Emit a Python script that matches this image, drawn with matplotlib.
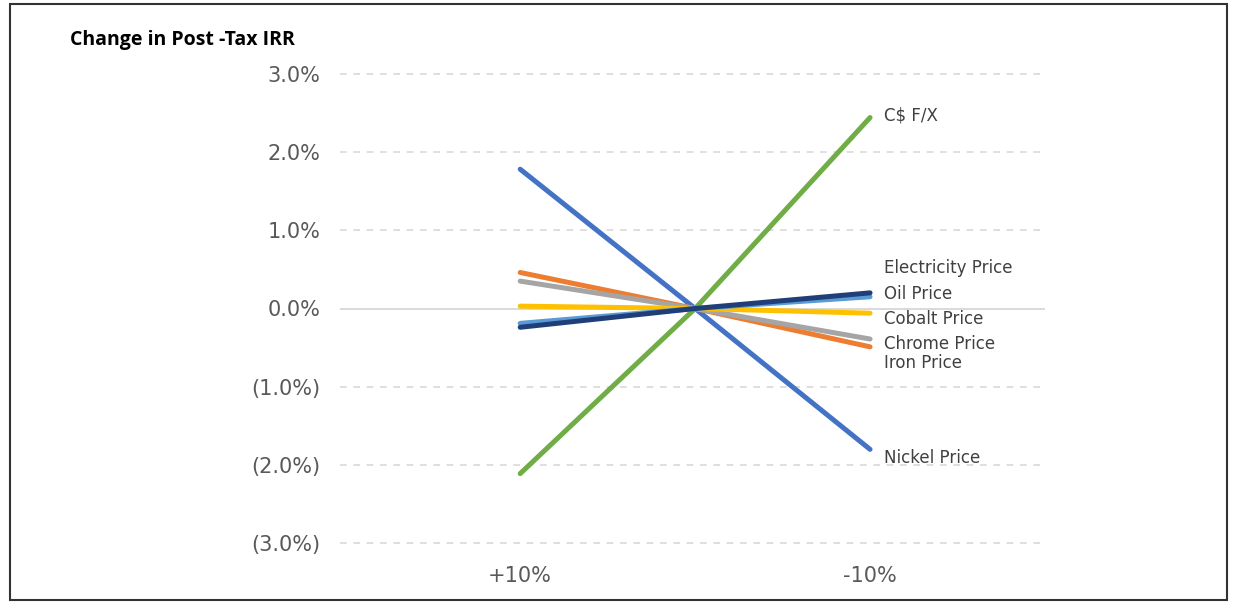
import matplotlib
matplotlib.use("Agg")
from matplotlib import pyplot as plt
from matplotlib.patches import Rectangle
import matplotlib.ticker as ticker

# sensitivity: +10% / base / -10%
cases = ["+10%", "", "-10%"]
x_pos = [-1, 0, 1]

series = ["Nickel Price", "Iron Price", "Chrome Price", "Cobalt Price",
          "Oil Price", "C$ F/X", "Electricity Price"]
values = {
    "Nickel Price":      [1.78, 0.0, -1.80],
    "Iron Price":        [0.46, 0.0, -0.49],
    "Chrome Price":      [0.35, 0.0, -0.39],
    "Cobalt Price":      [0.03, 0.0, -0.06],
    "Oil Price":         [-0.19, 0.0, 0.15],
    "C$ F/X":            [-2.11, 0.0, 2.44],
    "Electricity Price": [-0.24, 0.0, 0.20],
}
colors = {
    "Nickel Price": "#4472C4",
    "Iron Price": "#ED7D31",
    "Chrome Price": "#A5A5A5",
    "Cobalt Price": "#FFC000",
    "Oil Price": "#5B9BD5",
    "C$ F/X": "#70AD47",
    "Electricity Price": "#203F78",
}
# where the end labels sit (data units), spread so they don't overlap
label_y = {
    "Electricity Price": 0.52,
    "Oil Price": 0.19,
    "Cobalt Price": -0.14,
    "Chrome Price": -0.45,
    "Iron Price": -0.70,
    "C$ F/X": 2.47,
    "Nickel Price": -1.91,
}

plt.rcParams['font.family'] = ['DejaVu Sans']

fig = plt.figure(figsize=(12.33, 6.02), dpi=100)
ax = fig.add_axes([340/1233, 1 - 555/602, 705/1233, (555-62)/602])

ax.set_ylim(-3.15, 3.15)
ax.set_xlim(-2.03, 2.0)

for v in [-3, -2, -1, 1, 2, 3]:
    ax.axhline(v, color='#D9D9D9', lw=1.2, ls=(0, (4, 4)), zorder=0)
ax.axhline(0, color='#D9D9D9', lw=1.4, zorder=0)

for s in series:
    ax.plot(x_pos, values[s], color=colors[s], lw=3.6, solid_capstyle='round', zorder=2)
    ax.text(1.08, label_y[s], s, fontsize=12, color='#404040', va='center', ha='left')

ax.set_yticks([-3, -2, -1, 0, 1, 2, 3])
ax.yaxis.set_major_formatter(ticker.FuncFormatter(
    lambda v, p: f"{v:.1f}%" if v >= 0 else f"({abs(v):.1f}%)"))
ax.set_xticks([x_pos[0], x_pos[2]])
ax.set_xticklabels([cases[0], cases[2]])
ax.tick_params(axis='y', length=0, pad=14, labelsize=15, labelcolor='#595959')
ax.tick_params(axis='x', length=0, pad=8, labelsize=15, labelcolor='#595959')
for sp in ax.spines.values():
    sp.set_visible(False)

fig.text(70/1233, 1 - 40/602, "Change in Post -Tax IRR", fontsize=14,
         fontweight='bold', family=['Open Sans', 'DejaVu Sans'], va='center', ha='left')

fig.patches.append(Rectangle((10/1233, 0.003), 1 - 16/1233, 1 - 6/602,
                             transform=fig.transFigure, fill=False,
                             edgecolor='#333333', lw=1.5))

plt.savefig("out.png", dpi=100)
